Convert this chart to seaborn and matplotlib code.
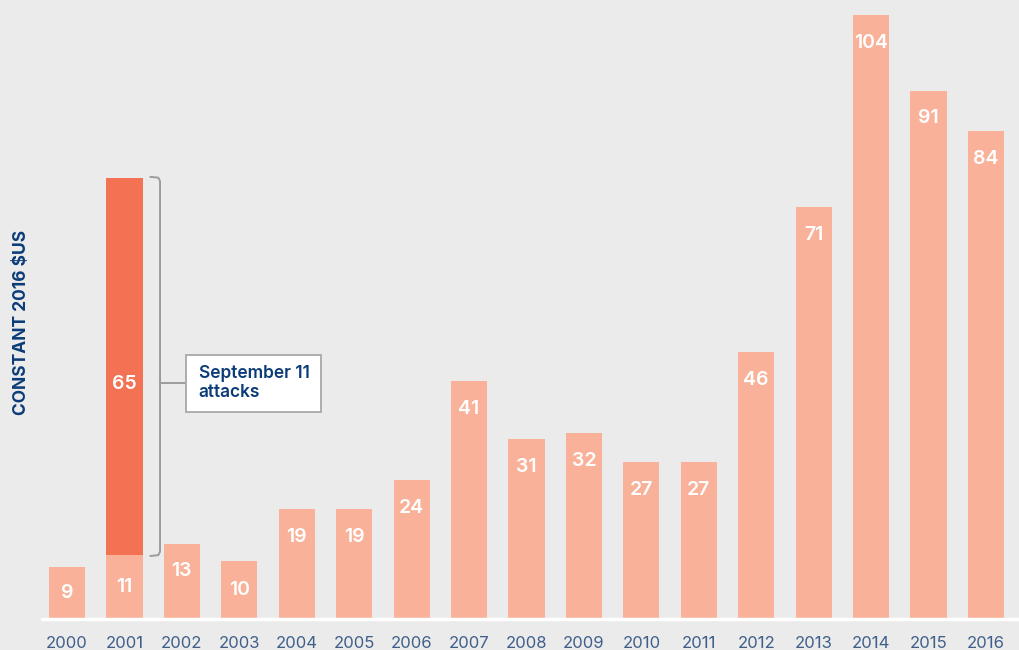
import matplotlib
matplotlib.use("Agg")
import matplotlib.pyplot as plt
import seaborn as sns
import pandas as pd
from matplotlib.patches import Rectangle

# Data
years = ["2000", "2001", "2002", "2003", "2004", "2005", "2006", "2007", "2008",
         "2009", "2010", "2011", "2012", "2013", "2014", "2015", "2016"]
base_values = [9, 11, 13, 10, 19, 19, 24, 41, 31, 32, 27, 27, 46, 71, 104, 91, 84]
sept11_values = [0, 65, 0, 0, 0, 0, 0, 0, 0, 0, 0, 0, 0, 0, 0, 0, 0]
ylabel_text = "CONSTANT 2016 $US"
callout_text = "September 11\nattacks"

BG = "#ebebeb"
LIGHT = "#f9b299"
DARK = "#f37254"
NAVY = "#0c3c78"
TICK = "#3f5f8a"
GRAY = "#9c9c9c"

sns.set_theme(style="white")
plt.rcParams["font.family"] = ["Inter", "DejaVu Sans"]

df = pd.DataFrame({"year": years, "base": base_values, "extra": sept11_values})

fig = plt.figure(figsize=(10.19, 6.5), dpi=100, facecolor=BG)
ax = fig.add_axes([42 / 1019, 31 / 650, 977 / 1019, 619 / 650])
ax.set_facecolor(BG)

bar_w = 0.63
sns.barplot(data=df, x="year", y="base", order=years, color=LIGHT,
            width=bar_w, saturation=1, ax=ax, linewidth=0)
sns.barplot(data=df, x="year", y="extra", order=years, color=DARK,
            width=bar_w, saturation=1, ax=ax, linewidth=0,
            bottom=df["base"].to_numpy())

ax.set_xlim(-0.435, 16.575)
ax.set_ylim(0, 106.6)
ax.set_xlabel("")
ax.set_ylabel("")
ax.set_yticks([])
for s in ax.spines.values():
    s.set_visible(False)
ax.axhline(0, color="white", lw=2.5, zorder=5, clip_on=False)
ax.tick_params(axis="x", length=0, pad=12, labelsize=12, labelcolor=TICK)

# Value labels inside the bars
for i, v in enumerate(base_values):
    y = v - 4.8 if v >= 12 else v / 2
    ax.text(i, y, str(v), ha="center", va="center", color="white",
            fontsize=14, fontweight="semibold", zorder=6)
for i, (b, e) in enumerate(zip(base_values, sept11_values)):
    if e:
        ax.text(i, b + e / 2 - 3, str(e), ha="center", va="center",
                color="white", fontsize=14, fontweight="semibold", zorder=6)

# Bracket spanning the September 11 segment
i911 = sept11_values.index(65)
seg_lo = base_values[i911]
seg_hi = base_values[i911] + sept11_values[i911]
bx = i911 + 0.62
hx = i911 + 0.45
ax.plot([hx, bx - 0.03, bx, bx, bx - 0.03, hx],
        [seg_hi + 0.15, seg_hi, seg_hi - 0.6, seg_lo + 0.6, seg_lo, seg_lo - 0.15],
        color=GRAY, lw=1.4, solid_joinstyle="round", zorder=4)

mid = 40.6
box_x0, box_x1 = i911 + 1.07, i911 + 3.42
box_h = 9.8
ax.plot([bx, box_x0], [mid, mid], color=GRAY, lw=1.4, zorder=4)
ax.add_patch(Rectangle((box_x0, mid - box_h / 2), box_x1 - box_x0, box_h,
                       facecolor="white", edgecolor="#a8a8a8", lw=1.3, zorder=4))
ax.text(box_x0 + 0.22, mid, callout_text, ha="left", va="center",
        color=NAVY, fontsize=12.5, fontweight="semibold", linespacing=1.15,
        zorder=5)

fig.text(22 / 1019, 1 - 322 / 650, ylabel_text, rotation=90, ha="center",
         va="center", color=NAVY, fontsize=12.5, fontweight="bold")

fig.savefig("out.png", dpi=100, facecolor=BG)
